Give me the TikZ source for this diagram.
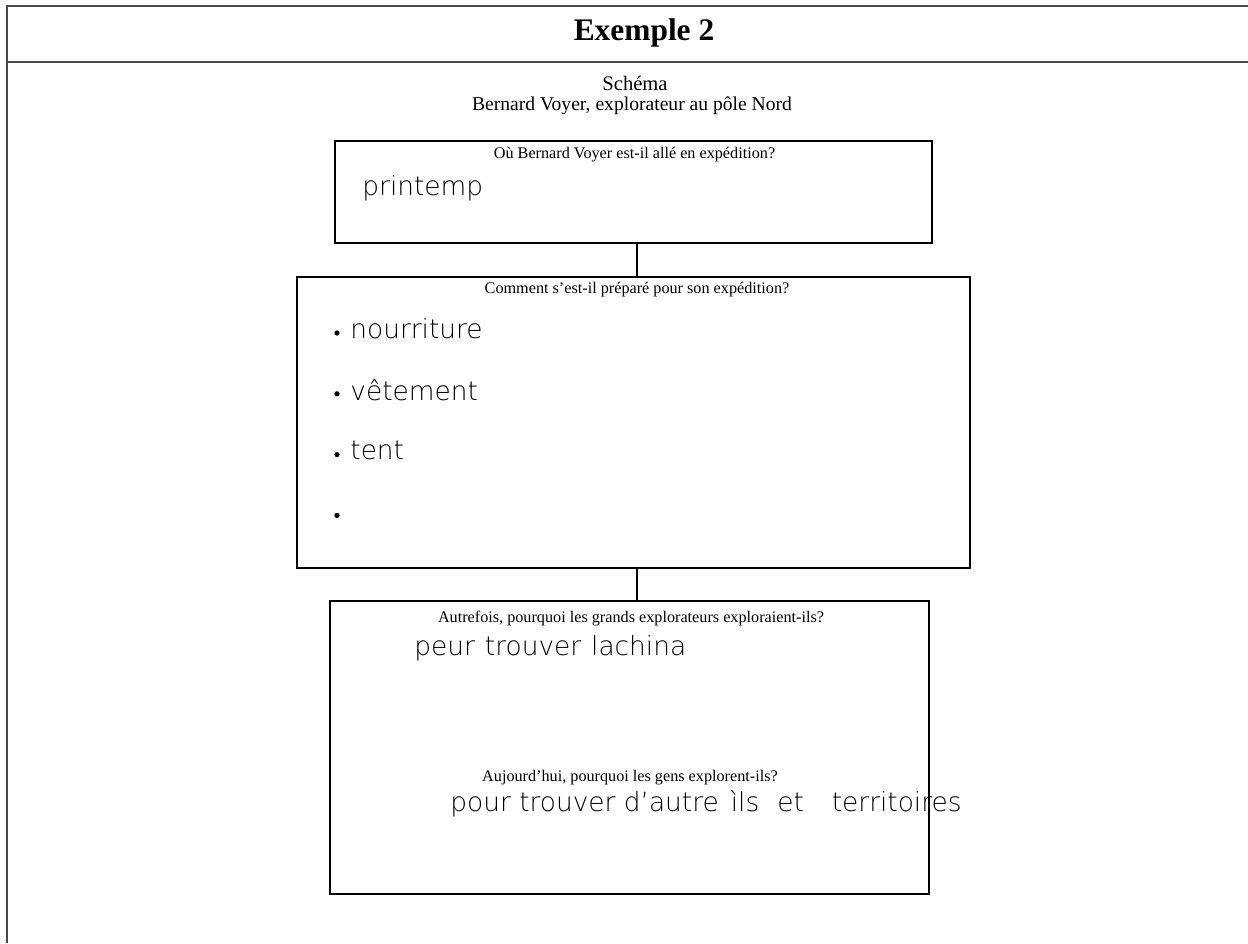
\documentclass[tikz,border=0pt]{standalone}
\usepackage{fontspec}
\setmainfont{Liberation Serif}
\newfontfamily\hand{DejaVu Sans ExtraLight}
\usetikzlibrary{positioning}

\tikzset{
  framerule/.style={line width=0.8pt, black!72},
  qbox/.style={draw, line width=0.6pt, inner sep=0pt},
  qtext/.style={font=\fontsize{8.1}{10}\selectfont, inner sep=0pt},
  htext/.style={font=\hand\fontsize{13.2}{15}\selectfont, inner sep=0pt},
  dotmark/.style={circle, fill, inner sep=0pt, minimum size=2.6pt},
}

\begin{document}
\begin{tikzpicture}[x=0.5pt,y=-0.5pt]
  \useasboundingbox (0,0) rectangle (1248,943);

  % page frame and heading
  \draw[framerule] (1248,6) -- (7,6) -- (7,943);
  \draw[framerule] (7,62) -- (1248,62);
  \node[font=\bfseries\fontsize{15.7}{19}\selectfont] (title) at (644,33) {Exemple 2};
  \node[font=\fontsize{10.3}{12}\selectfont, inner sep=0pt, anchor=base] (schema) at (635,90) {Schéma};
  \node[font=\fontsize{9.8}{12}\selectfont, inner sep=0pt, anchor=base] (sujet) at (632,110)
    {Bernard Voyer, explorateur au pôle Nord};

  % the three boxes
  \node[qbox, minimum width=298.5pt, minimum height=51pt] (q1) at (633.5,192) {};
  \node[qbox, minimum width=336.5pt, minimum height=145.5pt] (q2) at (633.5,422.5) {};
  \node[qbox, minimum width=299.5pt, minimum height=146.5pt] (q3) at (629.5,747.5) {};

  % connectors
  \coordinate (spine) at (637,0);
  \draw[line width=0.6pt] (q1.south -| spine) -- (q2.north -| spine);
  \draw[line width=0.6pt] (q2.south -| spine) -- (q3.north -| spine);

  % questions
  \node[qtext] (t1) at (634.5,155) {Où Bernard Voyer est-il allé en expédition?};
  \node[qtext] (t2) at (637,290) {Comment s’est-il préparé pour son expédition?};
  \node[qtext] (t3) at (631,619) {Autrefois, pourquoi les grands explorateurs exploraient-ils?};
  \node[qtext] (t4) at (630,778) {Aujourd’hui, pourquoi les gens explorent-ils?};

  % answers
  \node[htext, anchor=west] (a1) at (362,188) {printemp};

  \node[dotmark] (d1) at (337,333) {};
  \node[dotmark, below=27.4pt of d1] (d2) {};
  \node[dotmark, below=27.4pt of d2] (d3) {};
  \node[dotmark, below=27.4pt of d3] (d4) {};
  \node[htext, right=5pt of d1, yshift=2pt] (i1) {nourriture};
  \node[htext, right=5pt of d2, yshift=2pt] (i2) {vêtement};
  \node[htext, right=5pt of d3, yshift=2pt] (i3) {tent};

  \node[htext, anchor=west] (a3) at (414,648) {peur\hspace{5pt}trouver\hspace{5pt}lachina};
  \node[htext, anchor=west] (a4) at (450,804)
    {pour trouver d’autre\hspace{6pt}ìls\hspace{9pt}et\hspace{14pt}territoires};
\end{tikzpicture}
\end{document}
